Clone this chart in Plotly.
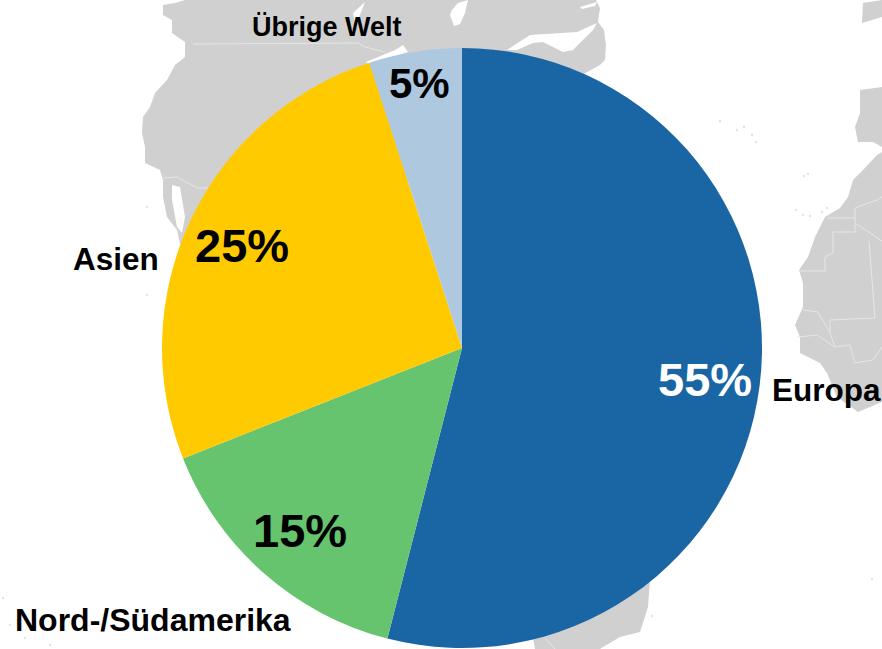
import plotly.graph_objects as go

W, H = 882, 649

# ---- chart data ----
regions = ["Europa", "Nord-/Südamerika", "Asien", "Übrige Welt"]
slice_sizes = [54, 15, 26, 5]
share_labels = ["55%", "15%", "25%", "5%"]
slice_colors = ["#1a66a5", "#66c36e", "#ffcb00", "#aec8df"]
share_colors = ["#ffffff", "#000000", "#000000", "#000000"]

# ---- text placement (pixels) and sizes ----
share_xy = [(705, 379), (300, 530), (242, 245), (419, 84)]
share_sizes = [47, 47, 47, 42]
region_xy = [(826, 390), (153, 620), (116, 259), (327, 27)]
region_sizes = [31.5, 32, 31.5, 27]

# ---- decorative background map outlines (pixels) ----
LAND = "#d0d0d0"
land_shapes = [
    [(163, 5), (175, 3), (185, 0), (596, 0), (600, 8), (598, 22), (604, 30), (606, 45), (605, 60),
     (600, 65), (500, 120), (300, 250), (185, 250), (180, 244), (177, 230), (167, 217), (163, 197),
     (163, 180), (160, 170), (145, 163), (145, 147), (142, 133), (143, 117), (150, 107), (155, 93),
     (167, 80), (175, 65), (185, 57), (185, 42), (172, 33), (172, 20), (163, 15)],
    [(862, 23), (863, 3), (882, 0), (882, 17), (872, 20)],
    [(860, 90), (882, 87), (882, 147), (873, 142), (858, 142), (855, 127), (860, 113)],
    [(882, 152), (877, 155), (863, 170), (853, 180), (848, 197), (840, 208), (825, 217), (815, 237),
     (808, 257), (799, 270), (803, 283), (803, 307), (795, 325), (800, 337), (800, 353), (820, 363),
     (827, 373), (837, 397), (858, 412), (882, 402)],
    [(650, 580), (648, 607), (640, 632), (620, 637), (603, 647), (600, 649), (535, 649), (530, 620), (620, 560)],
]
water_shapes = [
    [(507, 50), (530, 35), (577, 32), (597, 23), (593, 30), (573, 50), (563, 52), (543, 42), (533, 43), (517, 50)],
    [(580, 7), (597, 2), (595, 6), (582, 9)],
    [(452, 10), (458, 3), (468, 0), (465, 13), (460, 24), (454, 26), (450, 15)],
    [(353, 13), (365, 2), (358, 20), (355, 23)],
    [(366, 62), (395, 50), (403, 45), (408, 52), (385, 60), (370, 65)],
    [(172, 185), (180, 187), (185, 217), (182, 233), (177, 227), (172, 200)],
]
border_lines = [
    [(193, 44), (358, 43), (365, 47), (385, 52)],
    [(163, 178), (177, 177), (197, 188), (208, 188)],
    [(799, 271), (825, 271), (825, 257), (833, 253), (833, 232), (855, 232), (855, 218), (827, 218)],
    [(855, 223), (882, 241)],
    [(855, 218), (855, 208), (877, 200), (882, 197)],
    [(869, 241), (875, 318), (830, 320), (830, 333), (818, 312), (803, 310)],
    [(798, 337), (817, 335), (835, 347), (850, 345), (855, 363), (873, 360), (882, 347)],
    [(830, 333), (835, 347)],
    [(545, 638), (555, 649)],
]
island_dots = [(720, 121), (737, 130), (744, 127), (752, 135), (756, 142), (804, 176), (808, 174),
               (796, 210), (803, 215), (810, 216), (822, 212), (827, 208), (546, 513), (652, 616), (872, 579),
               (147, 207), (147, 295), (3, 598), (10, 625), (25, 638), (50, 645)]


def px(x):
    return x / W


def py(y):
    return 1 - y / H


def path(points, close=True):
    s = "M " + " L ".join(f"{px(x):.5f},{py(y):.5f}" for x, y in points)
    return s + (" Z" if close else "")


shapes = []
for pts in land_shapes:
    shapes.append(dict(type="path", xref="paper", yref="paper", path=path(pts), fillcolor=LAND,
                       line=dict(width=0), layer="below"))
for pts in water_shapes:
    shapes.append(dict(type="path", xref="paper", yref="paper", path=path(pts), fillcolor="#ffffff",
                       line=dict(width=0), layer="below"))
for pts in border_lines:
    shapes.append(dict(type="path", xref="paper", yref="paper", path=path(pts, close=False),
                       line=dict(width=1, color="#e6e6e6"), layer="below"))
for x, y in island_dots:
    shapes.append(dict(type="circle", xref="paper", yref="paper", x0=px(x - 1.2), x1=px(x + 1.2),
                       y0=py(y + 1.2), y1=py(y - 1.2), fillcolor="#e4e4e4", line=dict(width=0), layer="below"))

annotations = []
for text, color, size, (x, y) in zip(share_labels, share_colors, share_sizes, share_xy):
    annotations.append(dict(text=text, x=px(x), y=py(y), xref="paper", yref="paper", showarrow=False,
                            xanchor="center", yanchor="middle",
                            font=dict(family="Liberation Sans", size=size, color=color, weight="bold")))
for text, size, (x, y) in zip(regions, region_sizes, region_xy):
    annotations.append(dict(text=text, x=px(x), y=py(y), xref="paper", yref="paper", showarrow=False,
                            xanchor="center", yanchor="middle",
                            font=dict(family="Liberation Sans", size=size, color="#000000", weight="bold")))

fig = go.Figure(go.Pie(
    labels=regions,
    values=slice_sizes,
    sort=False,
    direction="clockwise",
    rotation=0,
    textinfo="none",
    marker=dict(colors=slice_colors, line=dict(width=0)),
    domain=dict(x=[px(162), px(762)], y=[py(648), py(48)]),
    showlegend=False,
))
fig.update_layout(
    width=W, height=H,
    margin=dict(l=0, r=0, t=0, b=0),
    paper_bgcolor="#ffffff",
    plot_bgcolor="#ffffff",
    shapes=shapes,
    annotations=annotations,
)
fig.write_html("out.html", config=dict(displayModeBar=False),
               post_script="document.body.style.margin='0';")
